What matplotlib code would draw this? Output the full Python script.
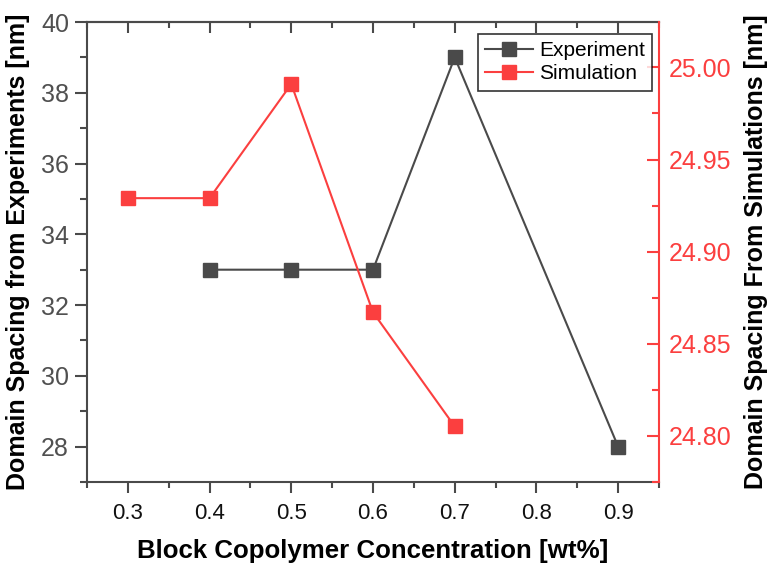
import matplotlib
matplotlib.use("Agg")
import matplotlib.pyplot as plt
from matplotlib.ticker import MultipleLocator, FormatStrFormatter

plt.rcParams['font.family'] = ['Liberation Sans', 'DejaVu Sans']

# Experimental domain spacing (left axis)
exp_conc = [0.4, 0.5, 0.6, 0.7, 0.9]
exp_spacing = [33, 33, 33, 39, 28]

# Simulated domain spacing (right axis)
sim_conc = [0.3, 0.4, 0.5, 0.6, 0.7]
sim_spacing = [24.929, 24.929, 24.991, 24.867, 24.805]

gray = '#4a4a4a'
red = '#fb3f3f'

fig = plt.figure(figsize=(7.71, 5.67), dpi=100)
ax = fig.add_axes([87 / 771, 1 - 482 / 567, (659 - 87) / 771, (482 - 22) / 567])
ax2 = ax.twinx()

l1, = ax.plot(exp_conc, exp_spacing, color=gray, lw=1.5, marker='s', ms=9.5,
              label='Experiment')
l2, = ax2.plot(sim_conc, sim_spacing, color=red, lw=1.5, marker='s', ms=9.5,
               label='Simulation')

ax.set_xlim(0.25, 0.95)
ax.set_ylim(27, 40)
ax2.set_ylim(24.7748, 25.0247)

ax.xaxis.set_major_locator(MultipleLocator(0.1))
ax.xaxis.set_minor_locator(MultipleLocator(0.05))
ax.yaxis.set_major_locator(MultipleLocator(2))
ax.yaxis.set_minor_locator(MultipleLocator(1))
ax2.yaxis.set_major_locator(MultipleLocator(0.05))
ax2.yaxis.set_minor_locator(MultipleLocator(0.025))
ax.xaxis.set_major_formatter(FormatStrFormatter('%.1f'))
ax2.yaxis.set_major_formatter(FormatStrFormatter('%.2f'))

# spines
for s in ['left', 'bottom', 'top']:
    ax.spines[s].set_color(gray)
    ax.spines[s].set_linewidth(1.5)
ax2.spines['right'].set_color(red)
ax2.spines['right'].set_linewidth(1.5)
ax2.spines['left'].set_visible(False)
ax2.spines['top'].set_visible(False)
ax2.spines['bottom'].set_visible(False)
ax.spines['right'].set_visible(False)

ax.tick_params(axis='x', which='both', direction='out', color=gray,
               width=1.5, labelsize=16, labelcolor='#111111', pad=7)
ax.tick_params(axis='x', which='major', length=8)
ax.tick_params(axis='x', which='minor', length=4)

# inward ticks along the top edge
top = ax.secondary_xaxis('top')
top.xaxis.set_major_locator(MultipleLocator(0.1))
top.xaxis.set_minor_locator(MultipleLocator(0.05))
top.tick_params(axis='x', which='both', direction='in', color=gray, width=1.5,
                labeltop=False)
top.tick_params(axis='x', which='major', length=8)
top.tick_params(axis='x', which='minor', length=4)
top.spines['top'].set_color(gray)
top.spines['top'].set_linewidth(1.5)

ax.tick_params(axis='y', which='both', direction='out', color=gray, width=1.5,
               labelsize=18, labelcolor='#505050', pad=4)
ax.tick_params(axis='y', which='major', length=9)
ax.tick_params(axis='y', which='minor', length=5)

ax2.tick_params(axis='y', which='both', direction='in', color=red, width=1.5,
                labelsize=18, labelcolor=red, pad=7)
ax2.tick_params(axis='y', which='major', length=9)
ax2.tick_params(axis='y', which='minor', length=5)

ax.set_xlabel('Block Copolymer Concentration [wt%]', fontsize=18.6,
              fontweight='bold', labelpad=11)
ax.set_ylabel('Domain Spacing from Experiments [nm]', fontsize=18,
              fontweight='bold', labelpad=8)
ax2.set_ylabel('Domain Spacing From Simulations [nm]', fontsize=18,
               fontweight='bold', labelpad=9)

leg = ax2.legend(handles=[l1, l2], loc='upper right', fontsize=15,
                 bbox_to_anchor=(0.988, 0.974), borderaxespad=0,
                 frameon=True, fancybox=False, edgecolor='black',
                 handlelength=2.3, borderpad=0.35,
                 labelspacing=0.2, handletextpad=0.3)
leg.get_frame().set_linewidth(1.2)

fig.savefig('out.png', dpi=100)
